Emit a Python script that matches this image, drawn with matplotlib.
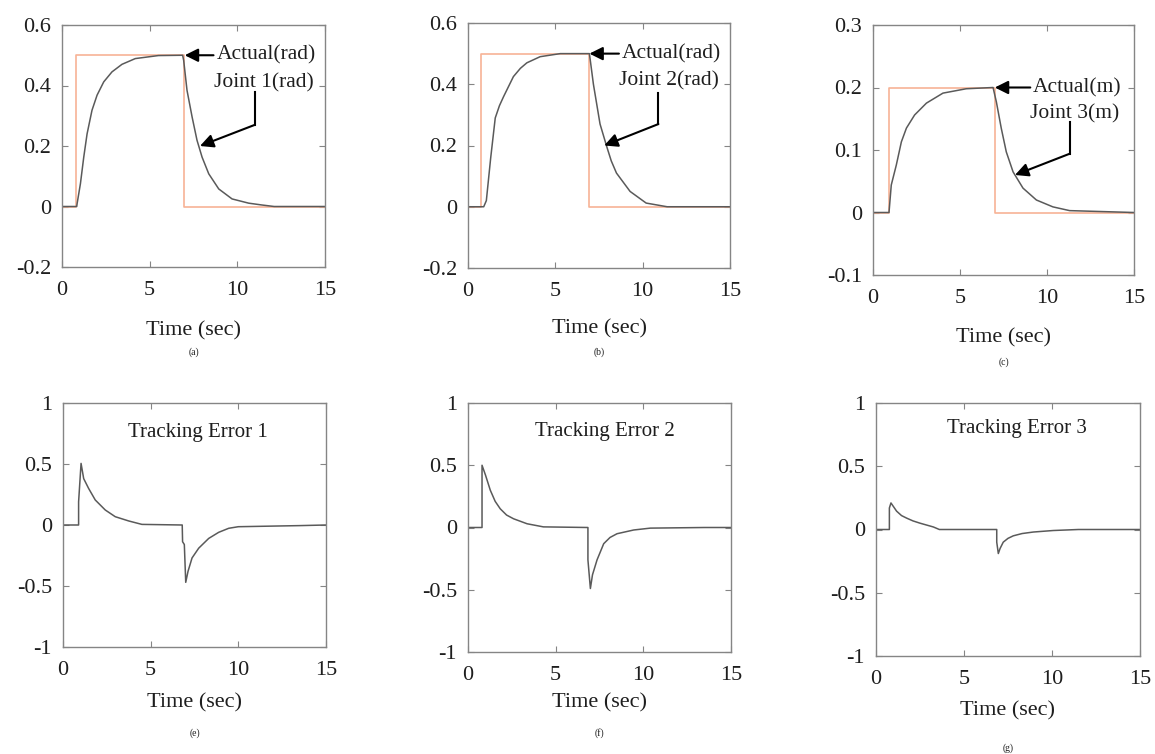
import matplotlib
matplotlib.use("Agg")
import matplotlib.pyplot as plt

plt.rcParams["font.family"] = ["Liberation Serif", "DejaVu Serif"]

# joint responses (actual)
t_act1 = [0, 0.84, 0.86, 1.05, 1.24, 1.43, 1.71, 2.0, 2.38, 2.85, 3.42, 4.18, 5.5, 6.88,
          6.94, 7.13, 7.42, 7.7, 7.99, 8.37, 8.94, 9.7, 10.65, 11.4, 12.1, 15]
y_act1 = [0, 0, 0.009, 0.075, 0.163, 0.24, 0.318, 0.368, 0.412, 0.445, 0.47, 0.489, 0.499, 0.5,
          0.483, 0.384, 0.296, 0.219, 0.163, 0.108, 0.058, 0.025, 0.011, 0.005, 0, 0]
t_act2 = [0, 0.9, 1.05, 1.3, 1.56, 1.8, 2.04, 2.6, 3.0, 3.37, 4.13, 5.28, 6.95,
          7.02, 7.18, 7.56, 7.94, 8.2, 8.5, 9.28, 10.2, 11.4, 15]
y_act2 = [0, 0, 0.02, 0.16, 0.29, 0.33, 0.36, 0.425, 0.452, 0.47, 0.49, 0.5, 0.5,
          0.47, 0.40, 0.27, 0.197, 0.15, 0.11, 0.05, 0.012, 0, 0]
t_act3 = [0, 0.92, 1.05, 1.34, 1.63, 1.92, 2.39, 3.07, 4.02, 5.36, 6.9,
          7.09, 7.37, 7.66, 8.05, 8.62, 9.39, 10.34, 11.3, 15]
y_act3 = [0, 0, 0.044, 0.076, 0.113, 0.135, 0.156, 0.175, 0.191, 0.198, 0.2,
          0.177, 0.135, 0.097, 0.065, 0.039, 0.02, 0.009, 0.003, 0]

# desired step: on time, off time, level
ref_on = [0.8, 0.76, 0.92]
ref_off = [6.94, 6.9, 7.0]
ref_level = [0.5, 0.5, 0.2]

# tracking errors
t_err1 = [0, 0.89, 0.89, 1.03, 1.18, 1.46, 1.84, 2.41, 2.98, 3.75, 4.5, 6.8, 6.82, 6.92, 7.0,
          7.13, 7.36, 7.74, 8.31, 8.88, 9.45, 10.0, 13.5, 15]
y_err1 = [0, 0, 0.19, 0.505, 0.38, 0.30, 0.205, 0.123, 0.068, 0.033, 0.005, 0, -0.137, -0.16, -0.47,
          -0.38, -0.27, -0.19, -0.11, -0.06, -0.027, -0.014, -0.005, 0]
t_err2 = [0, 0.8, 0.8, 1.0, 1.27, 1.55, 1.84, 2.2, 2.6, 3.37, 4.3, 6.84, 6.84, 6.98,
          7.1, 7.36, 7.74, 8.1, 8.5, 9.45, 10.4, 13.5, 15]
y_err2 = [0, 0, 0.5, 0.42, 0.3, 0.21, 0.15, 0.1, 0.07, 0.03, 0.005, 0, -0.26, -0.49,
          -0.38, -0.26, -0.13, -0.08, -0.05, -0.02, -0.005, 0, 0]
t_err3 = [0, 0.76, 0.76, 0.85, 1.17, 1.45, 1.74, 2.1, 2.5, 3.26, 3.6, 6.86, 6.86, 6.95,
          7.05, 7.23, 7.5, 7.8, 8.3, 8.94, 10.07, 11.5, 15]
y_err3 = [0, 0, 0.17, 0.21, 0.145, 0.11, 0.09, 0.068, 0.05, 0.02, 0.0, 0, -0.1, -0.19,
          -0.15, -0.1, -0.07, -0.05, -0.032, -0.02, -0.008, 0, 0]

act_labels = ["Actual(rad)", "Actual(rad)", "Actual(m)"]
joint_labels = ["Joint 1(rad)", "Joint 2(rad)", "Joint 3(m)"]
err_titles = ["Tracking Error 1", "Tracking Error 2", "Tracking Error 3"]
top_ylims = [(-0.2, 0.6), (-0.2, 0.6), (-0.1, 0.3)]
top_yticks = [[-0.2, 0, 0.2, 0.4, 0.6], [-0.2, 0, 0.2, 0.4, 0.6], [-0.1, 0, 0.1, 0.2, 0.3]]
top_yticklabels = [["-0.2", "0", "0.2", "0.4", "0.6"], ["-0.2", "0", "0.2", "0.4", "0.6"], ["-0.1", "0", "0.1", "0.2", "0.3"]]
err_yticks = [-1, -0.5, 0, 0.5, 1]
err_yticklabels = ["-1", "-0.5", "0", "0.5", "1"]
top_captions = ["(a)", "(b)", "(c)"]
bot_captions = ["(e)", "(f)", "(g)"]

# annotation anchors: text x, arrow tip, bent arrow (x, y_top, y_bottom, tip_x, tip_y), joint label y
ann_text_x = [8.8, 8.8, 9.2]
ann_tip = [(7.0, 0.5), (6.95, 0.5), (7.0, 0.2)]
ann_joint_y = [0.41, 0.41, 0.158]
ann_bend = [(11.0, 0.38, 0.27, 7.87, 0.2), (10.9, 0.37, 0.27, 7.8, 0.2), (11.3, 0.145, 0.094, 8.16, 0.06)]
err_text_pos = [(7.7, 0.76), (7.8, 0.77), (8.0, 0.8)]

W, H = 1155, 754
# axes boxes in pixels: left, top, right, bottom
top_boxes = [(62, 25, 325, 267), (468, 23, 730, 268), (873, 25, 1134, 275)]
bot_boxes = [(63, 403, 326, 647), (468, 403, 731, 652), (876, 403, 1140, 656)]
top_xlabel_y = [331, 329, 338]
bot_xlabel_y = [703, 703, 711]
top_caption_y = [352, 352, 362]
bot_caption_y = [733, 733, 748]

GRAY = "#858585"
CURVE = "#5a5a5a"
ORANGE = "#f7b396"
TXT = "#1e1e1e"

fig = plt.figure(figsize=(W / 100, H / 100), dpi=100)


def make_axes(box):
    l, t, r, b = box
    ax = fig.add_axes([l / W, 1 - b / H, (r - l) / W, (b - t) / H])
    for s in ax.spines.values():
        s.set_color(GRAY)
        s.set_linewidth(1.0)
    ax.tick_params(direction="in", top=True, right=True, length=4, color=GRAY,
                   labelsize=16, labelcolor=TXT)
    ax.tick_params(axis="x", pad=10)
    ax.tick_params(axis="y", pad=8)
    ax.set_xlim(0, 15)
    ax.set_xticks([0, 5, 10, 15])
    return ax


acts = [(t_act1, y_act1), (t_act2, y_act2), (t_act3, y_act3)]
errs = [(t_err1, y_err1), (t_err2, y_err2), (t_err3, y_err3)]

for i in range(3):
    ax = make_axes(top_boxes[i])
    ax.plot([0, ref_on[i], ref_on[i], ref_off[i], ref_off[i], 15],
            [0, 0, ref_level[i], ref_level[i], 0, 0], color=ORANGE, lw=1.2)
    ax.plot(acts[i][0], acts[i][1], color=CURVE, lw=1.1)
    ax.set_ylim(*top_ylims[i])
    ax.set_yticks(top_yticks[i])
    ax.set_yticklabels(top_yticklabels[i])
    tip = ann_tip[i]
    ax.annotate(act_labels[i], xy=tip, xytext=(ann_text_x[i], tip[1]),
                va="center", ha="left", fontsize=15.5, color=TXT,
                arrowprops=dict(arrowstyle="-|>", color="k", lw=1.5, mutation_scale=20,
                                shrinkA=0, shrinkB=0))
    ax.text(ann_text_x[i] - 0.15, ann_joint_y[i], joint_labels[i], va="center", ha="left",
            fontsize=15.5, color=TXT)
    bx, by0, by1, tx, ty = ann_bend[i]
    ax.plot([bx, bx], [by0, by1], color="k", lw=1.5)
    ax.annotate("", xy=(tx, ty), xytext=(bx, by1),
                arrowprops=dict(arrowstyle="-|>", color="k", lw=1.5, mutation_scale=20,
                                shrinkA=0, shrinkB=0))
    l, t, r, b = top_boxes[i]
    fig.text((l + r) / 2 / W, 1 - top_xlabel_y[i] / H, "Time (sec)", ha="center", va="center",
             fontsize=16, color=TXT)
    fig.text((l + r) / 2 / W, 1 - top_caption_y[i] / H, top_captions[i], ha="center", va="center",
             fontsize=7, color=TXT)

for i in range(3):
    ax = make_axes(bot_boxes[i])
    ax.plot(errs[i][0], errs[i][1], color=CURVE, lw=1.1)
    ax.set_ylim(-1, 1)
    ax.set_yticks(err_yticks)
    ax.set_yticklabels(err_yticklabels)
    ax.text(err_text_pos[i][0], err_text_pos[i][1], err_titles[i], ha="center", va="center",
            fontsize=15, color=TXT)
    l, t, r, b = bot_boxes[i]
    fig.text((l + r) / 2 / W, 1 - bot_xlabel_y[i] / H, "Time (sec)", ha="center", va="center",
             fontsize=16, color=TXT)
    fig.text((l + r) / 2 / W, 1 - bot_caption_y[i] / H, bot_captions[i], ha="center", va="center",
             fontsize=7, color=TXT)

fig.savefig("out.png", dpi=100)
